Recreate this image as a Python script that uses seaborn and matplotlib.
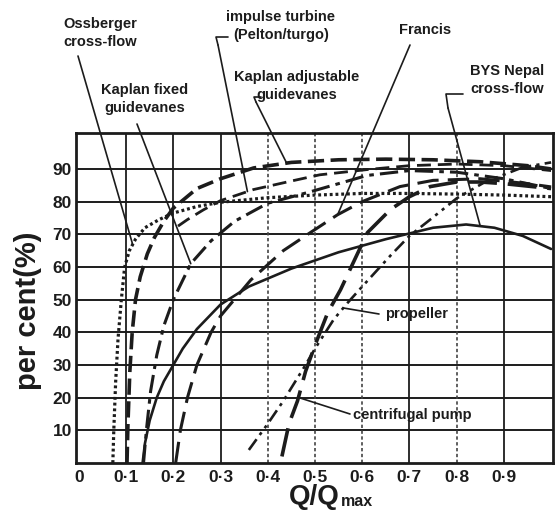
import numpy as np
import pandas as pd
import matplotlib
matplotlib.use("Agg")
import matplotlib.pyplot as plt
from matplotlib.lines import Line2D
import seaborn as sns

# ---------------- data ----------------
oss_x = [0.072, 0.074, 0.078, 0.083, 0.090, 0.097, 0.107, 0.120, 0.140, 0.170, 0.200, 0.250, 0.300, 0.400, 0.500, 0.600, 0.700, 0.800, 0.900, 1.000]
oss_y = [0, 10, 25, 38, 50, 60, 65, 68.5, 72, 74.5, 76.5, 78.5, 79.8, 81.2, 82, 82.5, 82.5, 82.3, 82, 81.5]

kad_x = [0.102, 0.104, 0.108, 0.113, 0.120, 0.130, 0.145, 0.160, 0.180, 0.200, 0.250, 0.300, 0.370, 0.450, 0.550, 0.650, 0.750, 0.850, 0.950, 1.000]
kad_y = [0, 12, 28, 40, 50, 57, 64, 69, 74, 78, 84, 87, 90.3, 92, 92.8, 93, 92.8, 92.2, 91, 90]

imp_x = [0.210, 0.230, 0.264, 0.300, 0.370, 0.450, 0.510, 0.610, 0.700, 0.800, 0.900, 1.000]
imp_y = [72.5, 74.5, 77.5, 80.3, 83.7, 86.3, 88.2, 89.8, 91, 91.5, 91, 89.5]

kfx_x = [0.137, 0.143, 0.152, 0.165, 0.180, 0.200, 0.237, 0.280, 0.330, 0.400, 0.490, 0.610, 0.700, 0.800, 0.900, 1.000]
kfx_y = [0, 10, 22, 33, 42, 50, 61, 68, 74, 79.5, 83, 88, 89.5, 89, 87, 84]

fra_x = [0.205, 0.215, 0.230, 0.250, 0.280, 0.300, 0.364, 0.433, 0.490, 0.548, 0.600, 0.680, 0.750, 0.850, 0.950, 1.000]
fra_y = [0, 10, 20, 30, 40, 45, 56, 65, 70.5, 76, 80, 84.6, 86.5, 87, 85.5, 84.5]

bys_x = [0.135, 0.140, 0.150, 0.165, 0.180, 0.200, 0.220, 0.250, 0.300, 0.360, 0.450, 0.550, 0.650, 0.750, 0.820, 0.880, 0.940, 1.000]
bys_y = [0, 6, 13, 20, 25, 30, 35, 41, 48.5, 54, 59.5, 64.5, 68.5, 72, 73, 72, 69.5, 65.5]

pro_x = [0.360, 0.400, 0.433, 0.450, 0.480, 0.500, 0.540, 0.569, 0.600, 0.660, 0.700, 0.744, 0.800, 0.860, 0.940, 1.000]
pro_y = [4, 12, 19, 23, 30, 35, 44, 49, 54, 63.5, 69.5, 74.5, 81, 86, 90.5, 92]

cen_x = [0.430, 0.445, 0.463, 0.480, 0.500, 0.527, 0.554, 0.580, 0.611, 0.660, 0.700, 0.744, 0.800, 0.850, 0.900, 1.000]
cen_y = [2, 12, 19, 28, 36, 46, 53, 61, 70.5, 77.6, 81.5, 84.6, 86, 86, 85.5, 84]

curve_names = ["Ossberger cross-flow", "Kaplan adjustable guidevanes", "impulse turbine (Pelton/turgo)",
               "Kaplan fixed guidevanes", "Francis", "BYS Nepal cross-flow", "propeller", "centrifugal pump"]

x_ticks = [0, 0.1, 0.2, 0.3, 0.4, 0.5, 0.6, 0.7, 0.8, 0.9]
x_tick_labels = ["0", "0·1", "0·2", "0·3", "0·4", "0·5", "0·6", "0·7", "0·8", "0·9"]
y_ticks = [10, 20, 30, 40, 50, 60, 70, 80, 90]
y_tick_labels = ["10", "20", "30", "40", "50", "60", "70", "80", "90"]

# ---------------- styling ----------------
sns.set_theme(style="white")
plt.rcParams["font.family"] = ["Liberation Sans", "DejaVu Sans"]
INK = "#1c1c1c"

W, H = 555, 519
fig = plt.figure(figsize=(W / 100, H / 100), dpi=100)
ax = fig.add_axes([76 / W, (H - 463) / H, (553 - 76) / W, (463 - 133) / H])

def fp(px, py):
    return (px / W, 1 - py / H)

styles = {
    "Ossberger cross-flow": dict(ls=(0, (0.9, 0.9)), lw=2.3),
    "Kaplan adjustable guidevanes": dict(ls=(0, (4.5, 1.8)), lw=2.6),
    "impulse turbine (Pelton/turgo)": dict(ls=(0, (5, 2.5)), lw=2.0),
    "Kaplan fixed guidevanes": dict(ls=(0, (6, 2, 1.5, 2)), lw=2.2),
    "Francis": dict(ls=(0, (7, 3)), lw=2.2),
    "BYS Nepal cross-flow": dict(ls="-", lw=1.9),
    "propeller": dict(ls=(0, (5, 2, 1.2, 2, 1.2, 2)), lw=1.9),
    "centrifugal pump": dict(ls=(0, (8, 3)), lw=2.6),
}
series = {
    "Ossberger cross-flow": (oss_x, oss_y),
    "Kaplan adjustable guidevanes": (kad_x, kad_y),
    "impulse turbine (Pelton/turgo)": (imp_x, imp_y),
    "Kaplan fixed guidevanes": (kfx_x, kfx_y),
    "Francis": (fra_x, fra_y),
    "BYS Nepal cross-flow": (bys_x, bys_y),
    "propeller": (pro_x, pro_y),
    "centrifugal pump": (cen_x, cen_y),
}

# grid
for yv in y_ticks:
    ax.axhline(yv, color=INK, lw=1.4, zorder=1)
solid_v = [0.1, 0.2, 0.3, 0.7, 0.9]
for xv in x_ticks[1:]:
    if xv in solid_v:
        ax.axvline(xv, color=INK, lw=1.3, zorder=1)
    else:
        ax.axvline(xv, color="#444444", lw=1.2, ls=(0, (2, 1.5)), zorder=1)

for name in curve_names:
    xs, ys = series[name]
    df = pd.DataFrame({"x": xs, "y": ys})
    st = styles[name]
    sns.lineplot(data=df, x="x", y="y", ax=ax, color=INK, linestyle=st["ls"], lw=st["lw"],
                 estimator=None, sort=False, zorder=3)

ax.set_xlim(-0.006, 1.004)
ax.set_ylim(0, 101)
ax.set_xticks(x_ticks)
ax.set_xticklabels(x_tick_labels)
ax.set_yticks(y_ticks)
ax.set_yticklabels(y_tick_labels)
ax.tick_params(axis="both", length=0, labelsize=12.5, colors=INK)
ax.tick_params(axis="y", pad=3)
ax.tick_params(axis="x", pad=5)
for lab in ax.get_xticklabels() + ax.get_yticklabels():
    lab.set_fontweight("bold")
ax.set_xlabel("")
ax.set_ylabel("")
for sp in ax.spines.values():
    sp.set_color(INK)
    sp.set_linewidth(2.0)
    sp.set_visible(True)

# axis titles
fig.text(*fp(28, 311), "per cent(%)", rotation=90, ha="center", va="center",
         fontsize=21, fontweight="bold", color=INK)
qq = fig.text(*fp(289, 497), "Q/Q", ha="left", va="center", fontsize=20, fontweight="bold", color=INK)
fig.canvas.draw()
bb = qq.get_window_extent(renderer=fig.canvas.get_renderer())
fig.text((bb.x1 + 1) / W, 1 - 501 / H, "max", ha="left", va="center", fontsize=11.5,
         fontweight="bold", color=INK)

# annotations
TXT = dict(ha="center", va="center", fontsize=10.5, fontweight="bold", color=INK, linespacing=1.35)
LN = dict(arrowstyle="-", color=INK, lw=1.2, shrinkA=0, shrinkB=0)

def on_curve(name, xa):
    xs, ys = series[name]
    return (xa, float(np.interp(xa, xs, ys)))

def lead(name, xa, start_px):
    ax.annotate("", xy=on_curve(name, xa), xycoords="data",
                xytext=fp(*start_px), textcoords="figure fraction", arrowprops=LN,
                annotation_clip=False)

def bracket(points_px):
    xs = [p[0] / W for p in points_px]
    ys = [1 - p[1] / H for p in points_px]
    fig.add_artist(Line2D(xs, ys, transform=fig.transFigure, color=INK, lw=1.2))

fig.text(*fp(100, 33), "Ossberger\ncross-flow", **TXT)
lead("Ossberger cross-flow", 0.114, (78, 56))

fig.text(*fp(145, 99), "Kaplan fixed\nguidevanes", **TXT)
lead("Kaplan fixed guidevanes", 0.237, (137, 124))

fig.text(*fp(281, 26), "impulse turbine\n(Pelton/turgo)", **TXT)
bracket([(228, 37), (216, 37), (218, 45)])
lead("impulse turbine (Pelton/turgo)", 0.357, (218, 45))

fig.text(*fp(297, 86), "Kaplan adjustable\nguidevanes", **TXT)
bracket([(261, 97), (254, 97), (256, 102)])
lead("Kaplan adjustable guidevanes", 0.44, (256, 102))

fig.text(*fp(425, 30), "Francis", **TXT)
lead("Francis", 0.548, (410, 45))

fig.text(*fp(507, 80), "BYS Nepal\ncross-flow", **TXT)
bracket([(463, 94), (446, 94), (448, 108)])
lead("BYS Nepal cross-flow", 0.85, (448, 108))

fig.text(*fp(385, 314), "propeller", ha="left", va="center", fontsize=10.5, fontweight="bold", color=INK)
lead("propeller", 0.56, (379, 314))

fig.text(*fp(353, 415), "centrifugal pump", ha="left", va="center", fontsize=10.5, fontweight="bold", color=INK)
lead("centrifugal pump", 0.465, (350, 414))

fig.savefig("out.png", dpi=100, facecolor="white")
